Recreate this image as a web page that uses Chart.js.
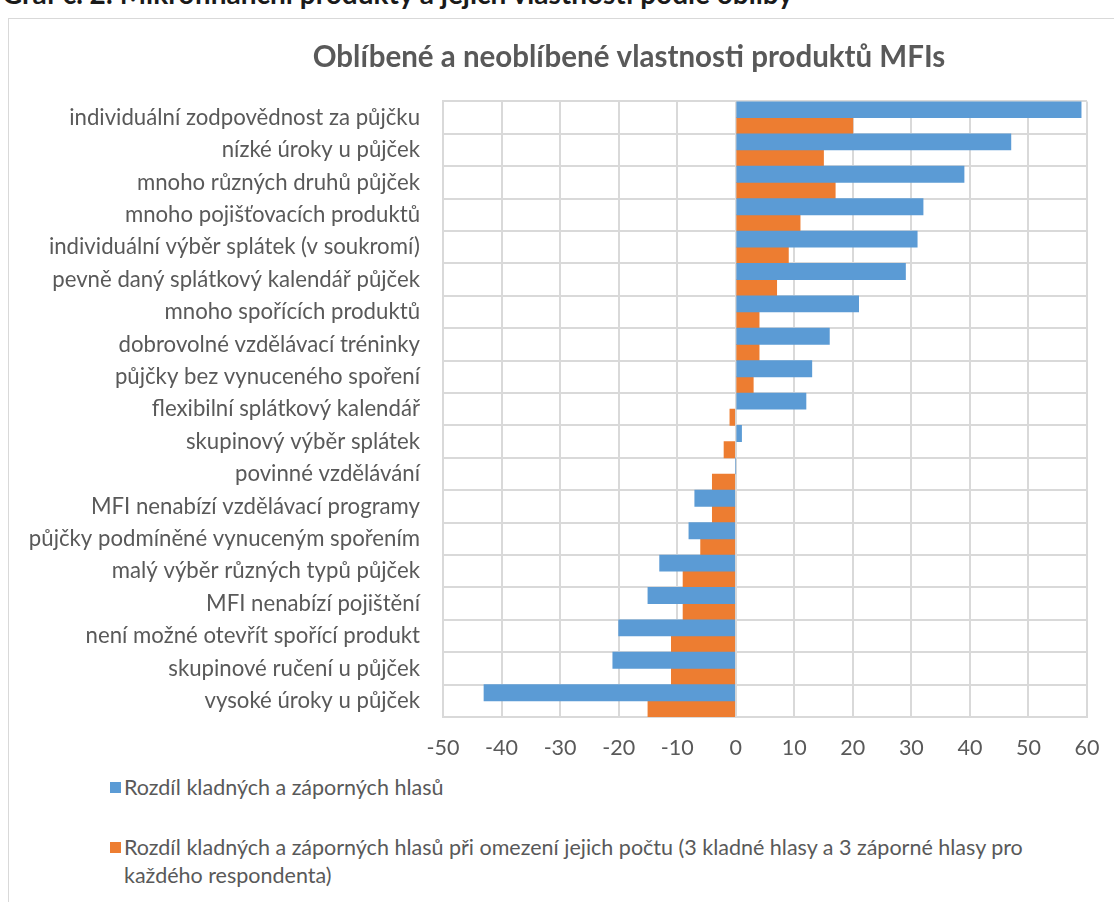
<!DOCTYPE html>
<html>
<head>
<meta charset="utf-8">
<script src="https://cdn.jsdelivr.net/npm/chart.js@4/dist/chart.umd.min.js"></script>
<style>
  body { margin: 0; background: #fff; width: 1114px; height: 902px; overflow: hidden; position: relative; font-family: Lato, "Open Sans", sans-serif; }
  #nadpis { position: absolute; left: 2px; top: -24px; font: bold 28px Lato, sans-serif; color: #1a1a1a; white-space: nowrap; }
  #ramec { position: absolute; left: 8px; top: 18px; width: 1240px; height: 900px; border: 1px solid #d9d9d9; background: #fff; }
  #obal { position: absolute; left: 0; top: 0; width: 1240px; height: 742px; }
  #legenda { position: absolute; left: 101px; top: 754px; width: 975px; color: #595959; font-size: 21.5px; line-height: 28px; }
  .polozka { display: flex; align-items: flex-start; margin-bottom: 32px; }
  .ctverec { flex: 0 0 11px; height: 11px; margin: 9px 3px 0 0; }
</style>
</head>
<body>
<div id="nadpis">Graf č. 2: Mikrofinanční produkty a jejich vlastnosti podle obliby</div>
<div id="ramec">
  <div id="obal"><canvas id="graf"></canvas></div>
  <div id="legenda"></div>
</div>
<script>
const vlastnosti = [
  "individuální zodpovědnost za půjčku",
  "nízké úroky u půjček",
  "mnoho různých druhů půjček",
  "mnoho pojišťovacích produktů",
  "individuální výběr splátek (v soukromí)",
  "pevně daný splátkový kalendář půjček",
  "mnoho spořících produktů",
  "dobrovolné vzdělávací tréninky",
  "půjčky bez vynuceného spoření",
  "flexibilní splátkový kalendář",
  "skupinový výběr splátek",
  "povinné vzdělávání",
  "MFI nenabízí vzdělávací programy",
  "půjčky podmíněné vynuceným spořením",
  "malý výběr různých typů půjček",
  "MFI nenabízí pojištění",
  "není možné otevřít spořící produkt",
  "skupinové ručení u půjček",
  "vysoké úroky u půjček"
]
const rozdilHlasu = [59, 47, 39, 32, 31, 29, 21, 16, 13, 12, 1, 0, -7, -8, -13, -15, -20, -21, -43]
const rozdilOmezeny = [20, 15, 17, 11, 9, 7, 4, 4, 3, -1, -2, -4, -4, -6, -9, -9, -11, -11, -15]
const nazvySerii = [
  "Rozdíl kladných a záporných hlasů",
  "Rozdíl kladných a záporných hlasů při omezení jejich počtu (3 kladné hlasy a 3 záporné hlasy pro každého respondenta)"
]
const barvy = ["#5b9bd5", "#ed7d31"]
const osaMin = -50, osaMax = 60, osaKrok = 10

const sedy = "#595959"
const mrizka = "#d9d9d9"
const pismo = "Lato, 'Open Sans', sans-serif"

const graf = new Chart(document.querySelector("#graf"), {
  type: "bar",
  data: {
    labels: vlastnosti,
    datasets: [
      { label: nazvySerii[0], data: rozdilHlasu, backgroundColor: barvy[0] },
      { label: nazvySerii[1], data: rozdilOmezeny, backgroundColor: barvy[1] }
    ]
  },
  options: {
    indexAxis: "y",
    responsive: true,
    maintainAspectRatio: false,
    animation: false,
    barPercentage: 1,
    categoryPercentage: 1,
    layout: { padding: 0 },
    plugins: {
      legend: { display: false },
      tooltip: { enabled: false },
      title: {
        display: true,
        text: "Oblíbené a neoblíbené vlastnosti produktů MFIs",
        color: sedy,
        font: { family: pismo, size: 29.5, weight: "bold" },
        padding: { top: 21, bottom: 26 }
      }
    },
    scales: {
      x: {
        min: osaMin,
        max: osaMax,
        // vlastni okraje, aby sedela plocha grafu
        afterFit: (s) => { s.paddingLeft = 0; s.paddingRight = 162; s.height = 44 },
        ticks: { stepSize: osaKrok, color: sedy, font: { family: pismo, size: 21.5 }, padding: 18 },
        grid: { color: mrizka, lineWidth: 2, drawTicks: false },
        border: { color: mrizka, width: 2 }
      },
      y: {
        afterFit: (s) => { s.width = 434; s.paddingTop = 0; s.paddingBottom = 0 },
        ticks: { color: sedy, font: { family: pismo, size: 22.2 }, padding: 23, autoSkip: false },
        grid: { color: mrizka, lineWidth: 2, drawTicks: false },
        border: { color: mrizka, width: 2 }
      }
    }
  }
})

const legenda = document.querySelector("#legenda")
graf.data.datasets.forEach(ds => {
  const radek = document.createElement("div")
  radek.className = "polozka"
  const box = document.createElement("span")
  box.className = "ctverec"
  box.style.background = ds.backgroundColor
  const txt = document.createElement("span")
  txt.textContent = ds.label
  radek.appendChild(box)
  radek.appendChild(txt)
  legenda.appendChild(radek)
})
</script>
</body>
</html>
